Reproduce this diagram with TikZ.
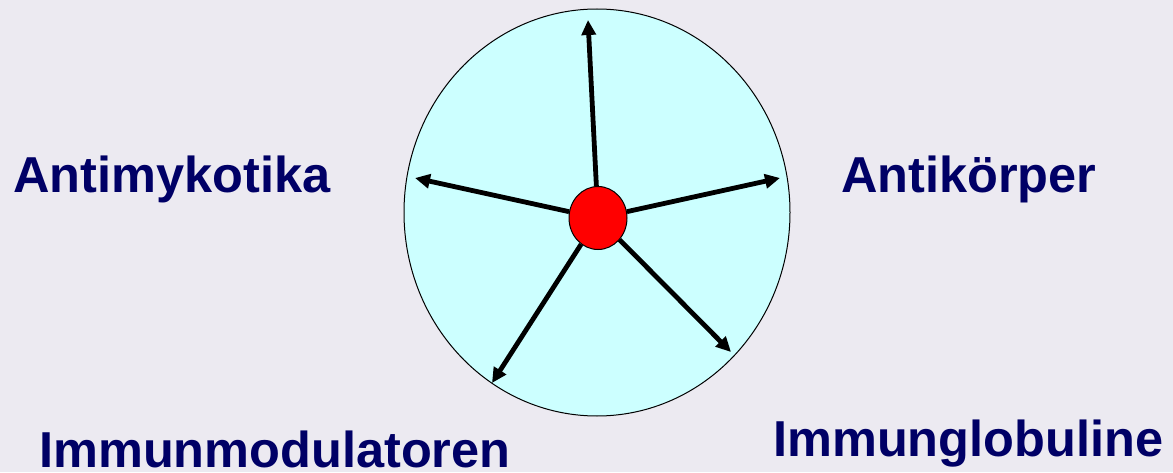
\documentclass[tikz,border=0pt]{standalone}
\usepackage{fontspec}
\setmainfont{Liberation Sans}
\usetikzlibrary{arrows.meta,shapes.geometric}
\definecolor{bg}{RGB}{236,234,241}
\definecolor{disc}{RGB}{204,255,255}
\definecolor{navy}{RGB}{0,0,102}
\tikzset{
  lbl/.style={font=\fontsize{50.5}{60}\selectfont\bfseries, text=navy, inner sep=0pt, anchor=base west},
  arr/.style={line width=4.8pt, -{Triangle[length=15pt,width=14pt]}},
}
\begin{document}
\begin{tikzpicture}[x=1pt,y=1pt]
\fill[bg] (0,0) rectangle (1173,472);
\useasboundingbox (0,0) rectangle (1173,472);
\node[draw=black, line width=1pt, fill=disc, ellipse, minimum width=386pt, minimum height=407pt, inner sep=0pt] (big) at (597,259.5) {};
\node[draw=black, line width=1pt, fill=red, ellipse, minimum width=58pt, minimum height=63pt, inner sep=0pt] (c) at (598,254) {};
\coordinate (tTop) at (588,452);
\coordinate (tLeft) at (415,294);
\coordinate (tRight) at (780,294);
\coordinate (tLR) at (731,120);
\coordinate (tLL) at (492,89);
\draw[arr] (c) -- (tTop);
\draw[arr] (c) -- (tLeft);
\draw[arr] (c) -- (tRight);
\draw[arr] (c) -- (tLR);
\draw[arr] (c) -- (tLL);
\node[lbl] (a) at (13,279) {Antimykotika};
\node[lbl] (b) at (841,279) {Antikörper};
\node[lbl] (d) at (39,4.5) {Immunmodulatoren};
\node[lbl] (e) at (773,16) {Immunglobuline};
\end{tikzpicture}
\end{document}
